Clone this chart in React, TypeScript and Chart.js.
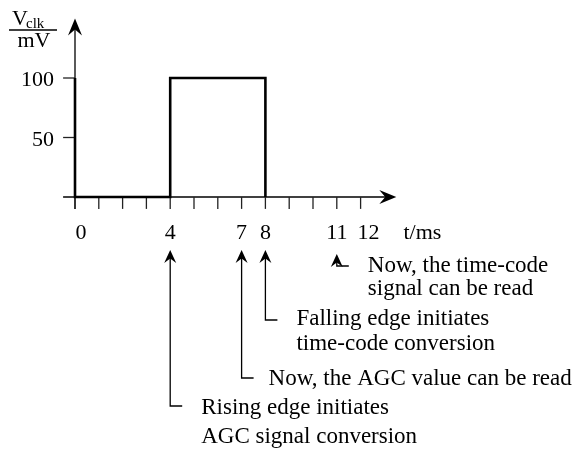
import React, { useEffect, useRef } from "react";
import { Chart, registerables } from "chart.js";

Chart.register(...registerables);

// ---- data ----
const signalTime = [0, 0, 4, 4, 8, 8];
const signalVolt = [100, 0, 0, 100, 100, 0];
const minorTickTimes = [0, 1, 2, 3, 4, 5, 6, 7, 8, 9, 10, 11, 12];
const xTickLabels = ["0", "4", "7", "8", "11", "12"];
const xTickValues = [0, 4, 7, 8, 11, 12];
const yTickValues = [50, 100];
const yTickLabels = ["50", "100"];
const xAxisTitle = "t/ms";
const yAxisSymbol = "V";
const yAxisSubscript = "clk";
const yAxisUnit = "mV";
const annotationTimes = [4, 7, 8, 11];
const annotationTexts = [
  ["Rising edge initiates", "AGC signal conversion"],
  ["Now, the AGC value can be read"],
  ["Falling edge initiates", "time-code conversion"],
  ["Now, the time-code", "signal can be read"],
];

// ---- layout (pixels) ----
const FONT = '"Liberation Serif", "Times New Roman", serif';
const annotationLayout = [
  { tipY: 250, elbowY: 406, textDx: 31, baselines: [414, 443] },
  { tipY: 250, elbowY: 378, textDx: 27, baselines: [385] },
  { tipY: 250, elbowY: 320, textDx: 31, baselines: [325, 350] },
  { tipY: 254, elbowY: 266, textDx: 31, baselines: [272, 295] },
];
const xLabelNudge: Record<string, number> = { "0": 6, "12": 8 };

function stealthUp(ctx: CanvasRenderingContext2D, x: number, y: number, len: number, half: number) {
  ctx.beginPath();
  ctx.moveTo(x, y);
  ctx.lineTo(x - half, y + len);
  ctx.lineTo(x, y + len * 0.65);
  ctx.lineTo(x + half, y + len);
  ctx.closePath();
  ctx.fill();
}

function stealthRight(ctx: CanvasRenderingContext2D, x: number, y: number, len: number, half: number) {
  ctx.beginPath();
  ctx.moveTo(x, y);
  ctx.lineTo(x - len, y - half);
  ctx.lineTo(x - len * 0.65, y);
  ctx.lineTo(x - len, y + half);
  ctx.closePath();
  ctx.fill();
}

const axesPlugin = {
  id: "customAxes",
  beforeDatasetsDraw(chart: any) {
    const ctx: CanvasRenderingContext2D = chart.ctx;
    const xs = chart.scales.x;
    const ys = chart.scales.y;
    const x0 = xs.getPixelForValue(0);
    const y0 = ys.getPixelForValue(0);
    const left = xs.getPixelForValue(xs.min);
    const right = xs.getPixelForValue(xs.max);
    const top = ys.getPixelForValue(ys.max);
    const bottom = ys.getPixelForValue(ys.min);
    ctx.save();
    ctx.strokeStyle = "#000";
    ctx.fillStyle = "#000";
    ctx.lineWidth = 1.3;
    // x axis
    ctx.beginPath();
    ctx.moveTo(left, y0);
    ctx.lineTo(right - 6, y0);
    ctx.stroke();
    stealthRight(ctx, right, y0, 17, 7);
    // y axis
    ctx.beginPath();
    ctx.moveTo(x0, bottom);
    ctx.lineTo(x0, top + 6);
    ctx.stroke();
    stealthUp(ctx, x0, top, 17, 7);
    // x ticks
    ctx.strokeStyle = "#222";
    minorTickTimes.forEach((t) => {
      const px = xs.getPixelForValue(t);
      ctx.beginPath();
      ctx.moveTo(px, y0);
      ctx.lineTo(px, bottom);
      ctx.stroke();
    });
    // y ticks
    yTickValues.forEach((v) => {
      const py = ys.getPixelForValue(v);
      ctx.beginPath();
      ctx.moveTo(left, py);
      ctx.lineTo(x0, py);
      ctx.stroke();
    });
    ctx.restore();
  },
  afterDatasetsDraw(chart: any) {
    const ctx: CanvasRenderingContext2D = chart.ctx;
    const xs = chart.scales.x;
    const ys = chart.scales.y;
    const y0 = ys.getPixelForValue(0);
    const left = xs.getPixelForValue(xs.min);
    ctx.save();
    ctx.fillStyle = "#000";
    ctx.strokeStyle = "#000";
    ctx.font = `22px ${FONT}`;
    // x tick labels
    ctx.textAlign = "center";
    ctx.textBaseline = "alphabetic";
    xTickValues.forEach((t, i) => {
      const lbl = xTickLabels[i];
      const px = xs.getPixelForValue(t) + (xLabelNudge[lbl] || 0);
      ctx.fillText(lbl, px, y0 + 42);
    });
    // x title
    ctx.textAlign = "left";
    ctx.fillText(xAxisTitle, xs.getPixelForValue(13.8), y0 + 42);
    // y tick labels
    ctx.textAlign = "right";
    yTickValues.forEach((v, i) => {
      ctx.fillText(yTickLabels[i], left - 9, ys.getPixelForValue(v) + 8);
    });
    // y title (fraction)
    ctx.textAlign = "left";
    ctx.fillText(yAxisSymbol, 12, 25);
    ctx.font = `15px ${FONT}`;
    ctx.fillText(yAxisSubscript, 26, 28);
    ctx.font = `22px ${FONT}`;
    ctx.lineWidth = 1.3;
    ctx.beginPath();
    ctx.moveTo(9, 30);
    ctx.lineTo(57, 30);
    ctx.stroke();
    ctx.textAlign = "center";
    ctx.fillText(yAxisUnit, 34, 47);
    // annotations
    ctx.textAlign = "left";
    ctx.font = `23px ${FONT}`;
    annotationTimes.forEach((t, i) => {
      const lay = annotationLayout[i];
      const px = xs.getPixelForValue(t);
      ctx.lineWidth = 1.3;
      ctx.beginPath();
      ctx.moveTo(px, lay.tipY + 6);
      ctx.lineTo(px, lay.elbowY);
      ctx.lineTo(px + 12, lay.elbowY);
      ctx.stroke();
      stealthUp(ctx, px, lay.tipY, 13, 6);
      annotationTexts[i].forEach((line, j) => {
        ctx.fillText(line, px + lay.textDx, lay.baselines[j]);
      });
    });
    ctx.restore();
  },
};

export default function App() {
  const canvasRef = useRef<HTMLCanvasElement | null>(null);
  useEffect(() => {
    if (!canvasRef.current) return;
    const chart = new Chart(canvasRef.current, {
      type: "scatter",
      data: {
        datasets: [
          {
            data: signalTime.map((t, i) => ({ x: t, y: signalVolt[i] })),
            showLine: true,
            borderColor: "#000",
            borderWidth: 2.6,
            pointRadius: 0,
            fill: false,
            tension: 0,
            borderJoinStyle: "miter",
          } as any,
        ],
      },
      options: {
        responsive: true,
        maintainAspectRatio: false,
        animation: false,
        layout: { padding: { left: 63.1, right: 184.7, top: 18.5, bottom: 244.1 } },
        plugins: { legend: { display: false }, tooltip: { enabled: false } },
        events: [],
        scales: {
          x: { type: "linear", min: -0.5, max: 13.5, display: false },
          y: { type: "linear", min: -10, max: 150, display: false },
        },
      },
      plugins: [axesPlugin],
    });
    return () => chart.destroy();
  }, []);
  return (
    <div style={{ position: "absolute", left: 0, top: 0, width: 581, height: 453, background: "#fff" }}>
      <canvas ref={canvasRef} />
    </div>
  );
}
